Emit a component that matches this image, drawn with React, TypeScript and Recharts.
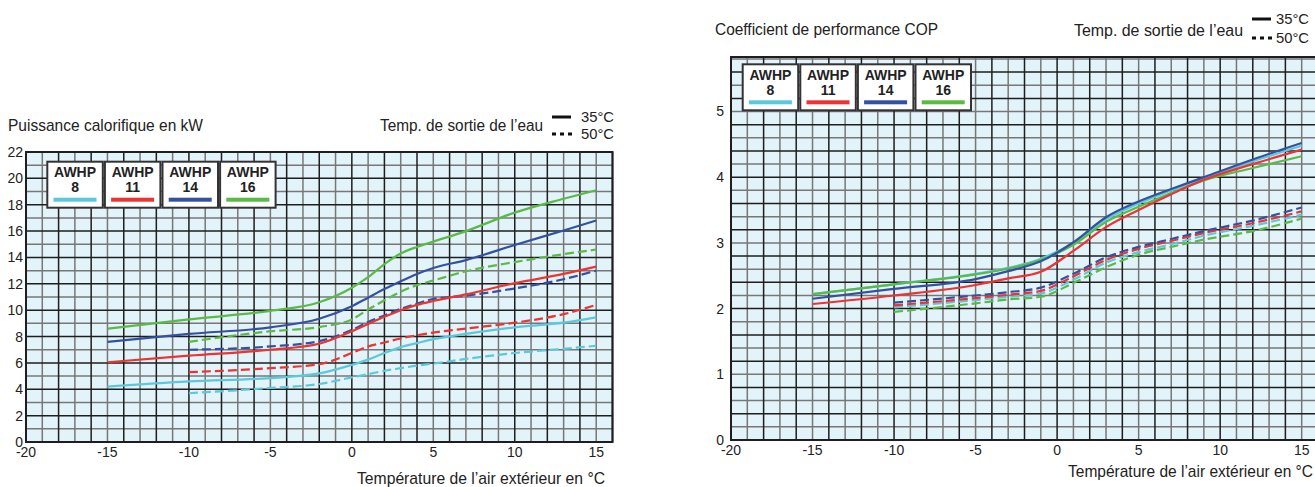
import React from "react";
import { LineChart, Line, XAxis, YAxis, CartesianGrid, ReferenceArea } from "recharts";

// outdoor air temperature (°C) for the heating capacity curves
const kwTemps = [-15, -10, -5, -2, 0, 1, 2, 3, 4, 5, 7, 10, 13, 15];
// heating capacity in kW, water outlet 35°C
const kw8_35 = [4.2, 4.6, 4.85, 5.2, 5.85, 6.25, 6.75, 7.2, 7.5, 7.8, 8.2, 8.7, 9.05, 9.45];
const kw11_35 = [6.05, 6.55, 7.0, 7.45, 8.4, 8.95, 9.5, 10.0, 10.4, 10.7, 11.2, 12.05, 12.75, 13.3];
const kw14_35 = [7.6, 8.2, 8.7, 9.35, 10.3, 10.95, 11.6, 12.2, 12.75, 13.2, 13.8, 14.95, 16.05, 16.8];
const kw16_35 = [8.6, 9.3, 9.95, 10.6, 11.7, 12.5, 13.5, 14.3, 14.8, 15.2, 16.0, 17.4, 18.45, 19.1];
// heating capacity in kW, water outlet 50°C (starts at -10°C)
const kw8_50 = [null, 3.7, 4.1, 4.4, 4.9, 5.15, 5.4, 5.6, 5.8, 5.95, 6.3, 6.75, 7.07, 7.3];
const kw11_50 = [null, 5.3, 5.6, 5.9, 6.75, 7.25, 7.55, 7.85, 8.1, 8.3, 8.6, 9.05, 9.7, 10.4];
const kw14_50 = [null, 7.0, 7.25, 7.65, 8.5, 9.1, 9.6, 10.1, 10.5, 10.85, 11.1, 11.65, 12.35, 13.0];
const kw16_50 = [null, 7.6, 8.4, 8.72, 9.3, 10.05, 10.75, 11.4, 11.9, 12.25, 12.95, 13.65, 14.25, 14.6];

// outdoor air temperature (°C) for the COP curves
const copTemps = [-15, -10, -5, -3, -1, 1, 3, 5, 7, 9, 12, 15];
const cop8_35 = [2.22, 2.37, 2.53, 2.62, 2.76, 3.0, 3.36, 3.6, 3.8, 3.98, 4.24, 4.48];
const cop11_35 = [2.07, 2.2, 2.36, 2.46, 2.56, 2.88, 3.24, 3.5, 3.74, 3.96, 4.2, 4.42];
const cop14_35 = [2.15, 2.3, 2.45, 2.57, 2.72, 3.01, 3.39, 3.63, 3.82, 4.0, 4.27, 4.52];
const cop16_35 = [2.22, 2.37, 2.52, 2.61, 2.74, 2.97, 3.32, 3.55, 3.76, 3.95, 4.14, 4.32];
const cop8_50 = [null, 2.02, 2.13, 2.18, 2.23, 2.44, 2.7, 2.86, 2.98, 3.11, 3.26, 3.43];
const cop11_50 = [null, 2.05, 2.16, 2.21, 2.27, 2.49, 2.74, 2.91, 3.03, 3.15, 3.3, 3.48];
const cop14_50 = [null, 2.09, 2.2, 2.25, 2.32, 2.53, 2.78, 2.94, 3.06, 3.18, 3.34, 3.54];
const cop16_50 = [null, 1.95, 2.08, 2.14, 2.18, 2.39, 2.63, 2.82, 2.94, 3.05, 3.18, 3.37];

const models = ["8", "11", "14", "16"];
const modelColors = ["#5bc8dc", "#ee3333", "#3351a0", "#5bb946"];

const xTicks = [-20, -15, -10, -5, 0, 5, 10, 15];
const kwTicks = [0, 2, 4, 6, 8, 10, 12, 14, 16, 18, 20, 22];
const copTicks = [0, 1, 2, 3, 4, 5];

const FONT = "'Liberation Sans', Arial, Helvetica, sans-serif";
const PLOT_BG = "#e2f3fa";
const DARK = "#1e1e1e";
const GRAY = "#777";

const kwRows = kwTemps.map((t, i) => ({
  t,
  a8: kw8_35[i], a11: kw11_35[i], a14: kw14_35[i], a16: kw16_35[i],
  b8: kw8_50[i], b11: kw11_50[i], b14: kw14_50[i], b16: kw16_50[i],
}));

const copRows = copTemps.map((t, i) => ({
  t,
  a8: cop8_35[i], a11: cop11_35[i], a14: cop14_35[i], a16: cop16_35[i],
  b8: cop8_50[i], b11: cop11_50[i], b14: cop14_50[i], b16: cop16_50[i],
}));

function steps(from: number, to: number, step: number) {
  const out: number[] = [];
  for (let i = 0; from + i * step <= to + 1e-9; i++) out.push(Math.round((from + i * step) * 100) / 100);
  return out;
}

const vLines = steps(-20, 16, 1);
const kwLines = steps(0, 22, 1);
const copLines = steps(0, 5.8, 0.2);

type ChartProps = {
  rows: any[];
  yMax: number;
  yTicks: number[];
  hLines: number[];
  yAxisWidth: number;
  xAxisHeight: number;
  top: number;
  right: number;
  tickGap: number;
};

function Chart({ rows, yMax, yTicks, hLines, yAxisWidth, xAxisHeight, top, right, tickGap }: ChartProps) {
  const tick = { fill: "#222", fontSize: 14, fontFamily: FONT };
  const order = [0, 3, 1, 2];
  return (
    <LineChart width={660} height={487} data={rows} margin={{ top, right, bottom: 0, left: 0 }}>
      <CartesianGrid
        fill={PLOT_BG}
        fillOpacity={1}
        stroke={GRAY}
        strokeWidth={1.5}
        horizontalValues={hLines.filter((_, i) => i % 2 === 1)}
        verticalValues={vLines.filter((_, i) => i % 2 === 1)}
      />
      <CartesianGrid
        stroke={DARK}
        strokeWidth={1.5}
        horizontalValues={hLines.filter((_, i) => i % 2 === 0)}
        verticalValues={vLines.filter((_, i) => i % 2 === 0)}
      />
      <XAxis
        type="number"
        dataKey="t"
        domain={[-20, 16]}
        ticks={xTicks}
        allowDataOverflow
        height={xAxisHeight}
        tickLine={false}
        tickSize={0}
        tickMargin={5}
        axisLine={{ stroke: DARK, strokeWidth: 2 }}
        tick={tick}
      />
      <YAxis
        type="number"
        domain={[0, yMax]}
        ticks={yTicks}
        allowDataOverflow
        width={yAxisWidth}
        tickLine={false}
        tickSize={0}
        tickMargin={tickGap}
        axisLine={{ stroke: DARK, strokeWidth: 2 }}
        tick={tick}
      />
      <ReferenceArea x1={-20} x2={16} y1={0} y2={yMax} fill="none" fillOpacity={0} stroke={DARK} strokeWidth={2} />
      {order.map((i) => (
        <Line
          key={"b" + i}
          dataKey={"b" + models[i]}
          type="monotone"
          stroke={modelColors[i]}
          strokeWidth={2.2}
          strokeDasharray="9 4"
          dot={false}
          activeDot={false}
          isAnimationActive={false}
        />
      ))}
      {order.map((i) => (
        <Line
          key={"a" + i}
          dataKey={"a" + models[i]}
          type="monotone"
          stroke={modelColors[i]}
          strokeWidth={2.2}
          dot={false}
          activeDot={false}
          isAnimationActive={false}
        />
      ))}
    </LineChart>
  );
}

function FitText({ x, y, len, size, text, bold }: { x: number; y: number; len: number; size: number; text: string; bold?: boolean }) {
  // y is the vertical centre of the capitals
  return (
    <text
      x={x}
      y={y + size * 0.358}
      fontSize={size}
      fontFamily={FONT}
      fontWeight={bold ? 700 : 400}
      fill="#222"
      textLength={len}
      lengthAdjust="spacingAndGlyphs"
    >
      {text}
    </text>
  );
}

function ModelBoxes({ x, y }: { x: number; y: number }) {
  return (
    <g>
      {models.map((m, i) => {
        const bx = x + i * 57.6;
        return (
          <g key={m}>
            <rect x={bx} y={y} width={55.5} height={46} fill="#fff" stroke="#333" strokeWidth={2} />
            <text x={bx + 27.75} y={y + 15.5} textAnchor="middle" fontSize={14} fontWeight={700} fontFamily={FONT} fill="#222">
              AWHP
            </text>
            <text x={bx + 27.75} y={y + 30.5} textAnchor="middle" fontSize={14} fontWeight={700} fontFamily={FONT} fill="#222">
              {m}
            </text>
            <rect x={bx + 6.2} y={y + 36} width={43} height={4} fill={modelColors[i]} />
          </g>
        );
      })}
    </g>
  );
}

function WaterKey({ x, y1, y2, tx }: { x: number; y1: number; y2: number; tx: number }) {
  return (
    <g>
      <line x1={x} x2={x + 19} y1={y1} y2={y1} stroke="#111" strokeWidth={3} />
      <line x1={x} x2={x + 20} y1={y2} y2={y2} stroke="#111" strokeWidth={3} strokeDasharray="4 4" />
      <FitText x={tx} y={y1} len={33} size={15} text="35°C" />
      <FitText x={tx} y={y2} len={33} size={15} text="50°C" />
    </g>
  );
}

export default function App() {
  return (
    <div style={{ position: "fixed", left: 0, top: 0, width: 1315, height: 487, overflow: "hidden", background: "#fff" }}>
      <div style={{ position: "absolute", left: 0, top: 0 }}>
        <Chart rows={kwRows} yMax={22} yTicks={kwTicks} hLines={kwLines} yAxisWidth={26} xAxisHeight={45} top={152} right={47.5} tickGap={3} />
      </div>
      <div style={{ position: "absolute", left: 660, top: 0 }}>
        <Chart rows={copRows} yMax={5.83} yTicks={copTicks} hLines={copLines} yAxisWidth={71} xAxisHeight={47} top={57} right={2} tickGap={7} />
      </div>
      <svg width={1315} height={487} style={{ position: "absolute", left: 0, top: 0, pointerEvents: "none" }}>
        <FitText x={8} y={125} len={195} size={17} text="Puissance calorifique en kW" />
        <FitText x={380} y={125} len={163} size={16} text="Temp. de sortie de l’eau" />
        <WaterKey x={552} y1={117} y2={134} tx={581} />
        <FitText x={357} y={478} len={248} size={17} text="Température de l’air extérieur en °C" />
        <ModelBoxes x={47.3} y={161.7} />

        <FitText x={715} y={29} len={223} size={17} text="Coefficient de performance COP" />
        <FitText x={1074} y={30} len={169} size={16} text="Temp. de sortie de l’eau" />
        <WaterKey x={1252} y1={19} y2={38} tx={1276} />
        <FitText x={1068} y={471} len={245} size={17} text="Température de l’air extérieur en °C" />
        <ModelBoxes x={742.7} y={64.3} />
      </svg>
    </div>
  );
}
